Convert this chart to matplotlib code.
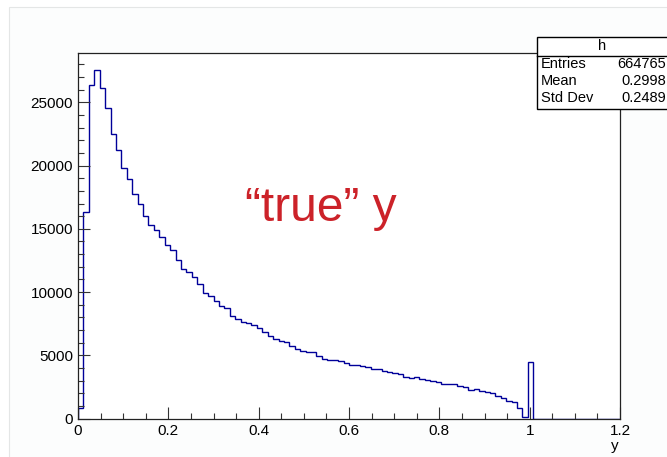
import matplotlib

matplotlib.use("Agg")

import matplotlib.pyplot as plt
import numpy as np
from matplotlib.lines import Line2D
from matplotlib.patches import Rectangle
from matplotlib.ticker import FuncFormatter, MultipleLocator

plt.rcParams["font.family"] = ["Liberation Sans", "DejaVu Sans"]

# histogram "h": 100 bins on [0, 1.2], counts
x_lo, x_hi, n_bins = 0.0, 1.2, 100
counts = [
    850, 16300, 26400, 27550, 26150, 24550, 22480, 21240, 19800, 18950,
    17740, 16960, 16040, 15320, 14880, 14340, 13740, 13300, 12540, 11840,
    11560, 11150, 10600, 9950, 9670, 9300, 8870, 8740, 8130, 7850,
    7660, 7530, 7400, 7160, 6870, 6550, 6290, 6130, 6030, 5740,
    5470, 5360, 5290, 5280, 4940, 4710, 4660, 4640, 4570, 4420,
    4230, 4210, 4150, 4050, 3890, 3880, 3750, 3640, 3620, 3520,
    3300, 3210, 3270, 3100, 3030, 3000, 2900, 2760, 2760, 2740,
    2600, 2470, 2260, 2330, 2200, 2070, 1990, 1800, 1600, 1410,
    1280, 810, 140, 4430,
] + [0] * 16
stat_title = "h"
stat_labels = ["Entries", "Mean", "Std Dev"]
stat_values = ["664765", "0.2998", "0.2489"]
label_text = "\u201ctrue\u201d y"

edges = np.linspace(x_lo, x_hi, n_bins + 1)

W, H = 667, 457
fig = plt.figure(figsize=(W / 100, H / 100), dpi=100, facecolor="white")


def fx(px):
    return px / W


def fy(py):
    return 1 - py / H


# faint canvas border (ROOT canvas edge)
fig.add_artist(Rectangle((fx(9), -0.1), 1.0, fy(7) + 0.1, transform=fig.transFigure,
                         fc="#fcfdfd", ec="#e4e6e6", lw=0.8, zorder=-1))

ax = fig.add_axes([fx(78), fy(418.5), fx(620) - fx(78), fy(53) - fy(418.5)])
ax.set_facecolor("white")
ax.stairs(counts, edges, color="#000099", lw=1.0, baseline=0)

ax.set_xlim(x_lo, x_hi)
ax.set_ylim(0, 28900)
ax.xaxis.set_major_locator(MultipleLocator(0.2))
ax.xaxis.set_minor_locator(MultipleLocator(0.05))
ax.yaxis.set_major_locator(MultipleLocator(5000))
ax.yaxis.set_minor_locator(MultipleLocator(1000))
ax.xaxis.set_major_formatter(FuncFormatter(lambda v, p: f"{v:g}"))
ax.yaxis.set_major_formatter(FuncFormatter(lambda v, p: f"{v:.0f}"))
ax.tick_params(which="both", direction="in", top=False, right=False,
               color="#333333", width=0.8, labelsize=11)
ax.tick_params(which="major", length=8.3)
ax.tick_params(which="minor", length=4.6)
ax.tick_params(axis="x", pad=4)
ax.tick_params(axis="y", pad=3.6)
for s in ax.spines.values():
    s.set_color("#222222")
    s.set_linewidth(0.9)

# axis title, right-aligned at the end of the x axis, under the last label
fig.text(fx(619), fy(450), "y", ha="right", va="baseline", fontsize=11)

# the big red label
fig.text(fx(245), fy(221), label_text, color="#cc2229", fontsize=34.5, va="baseline")

# stats box (cut off at the right edge like the original)
fig.add_artist(Rectangle((fx(537), fy(108.5)), 1.0, fy(37) - fy(108.5),
                         transform=fig.transFigure, fc="white", ec="black",
                         lw=1.0, zorder=5))
fig.add_artist(Line2D([fx(537), 1.0], [fy(55.5), fy(55.5)], transform=fig.transFigure,
                      color="black", lw=1.0, zorder=6))
fig.text(fx(602), fy(46.5), stat_title, ha="center", va="center", fontsize=10.5, zorder=7)
for i, (lab, val) in enumerate(zip(stat_labels, stat_values)):
    yy = fy(64 + 17 * i)
    fig.text(fx(541), yy, lab, ha="left", va="center", fontsize=10.5, zorder=7)
    fig.text(fx(666), yy, val, ha="right", va="center", fontsize=10.5, zorder=7)

fig.savefig("out.png", dpi=100)
